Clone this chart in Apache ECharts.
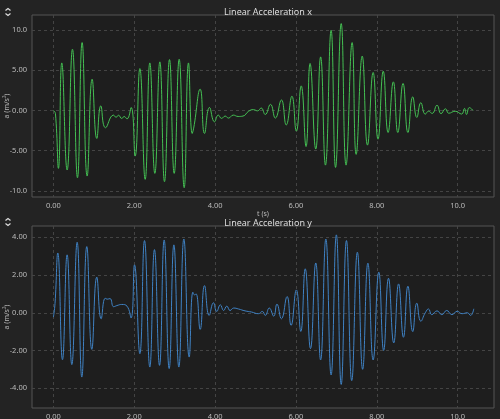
<!DOCTYPE html>
<html>
<head>
<meta charset="utf-8">
<script src="https://cdn.jsdelivr.net/npm/echarts@6/dist/echarts.min.js"></script>
<style>
  html, body { margin: 0; padding: 0; background: #232323; }
  #chart { width: 500px; height: 419px; }
</style>
</head>
<body>
<div id="chart"></div>
<script>
// time (s) and acceleration samples (turning points)
const timeX = [0.00, 0.05, 0.124, 0.207, 0.339, 0.471, 0.595, 0.710, 0.834, 0.958, 1.073, 1.172, 1.288, 1.486, 1.55, 1.61, 1.69, 1.75, 1.82,
  1.923, 2.022, 2.138, 2.27, 2.385, 2.509, 2.633, 2.748, 2.872, 2.988, 3.111, 3.235, 3.342, 3.433, 3.47, 3.631, 3.738, 3.862, 3.986,
  4.08, 4.16, 4.25, 4.33, 4.45, 4.57, 4.69, 4.83, 4.95, 5.05, 5.14, 5.24, 5.37, 5.49, 5.64, 5.76, 5.90, 6.01, 6.13, 6.25, 6.35, 6.49,
  6.61, 6.73, 6.87, 6.98, 7.12, 7.24, 7.39, 7.49, 7.64, 7.77, 7.91, 8.03, 8.16, 8.28, 8.41, 8.52, 8.65, 8.77, 8.89, 8.99, 9.09, 9.20,
  9.28, 9.37, 9.49, 9.59, 9.70, 9.78, 9.94, 10.10, 10.17, 10.22, 10.29, 10.38]
const accX = [0.0, -0.4, -7.2, 5.9, -7.4, 7.6, -8.36, 8.43, -8.15, 3.88, -3.48, 0.57, -2.15, -0.58, -0.85, -0.6, -1.0, -0.75, -1.05,
  0.37, -5.67, 5.2, -8.56, 5.9, -7.82, 6.03, -8.85, 6.32, -7.82, 6.36, -9.6, 5.9, -2.86, -2.2, 2.64, -2.86, 0.37, -1.41,
  -0.58, -0.99, -0.7, -0.95, -0.58, -0.75, -0.7, -0.1, 0.1, -0.05, 0.3, -0.5, 0.75, -0.95, 1.3, -1.8, 1.77, -2.57, 3.05, -4.48, 5.83, -4.8,
  6.65, -6.79, 9.96, -7.08, 10.79, -6.79, 8.43, -5.46, 6.74, -4.31, 4.71, -3.57, 4.87, -2.74, 3.55, -2.74, 3.35, -2.74, 1.69, -0.87, 0.96, -0.46,
  -0.1, -0.37, 0.64, -0.4, 0.2, -0.35, -0.1, -0.45, 0.25, -0.5, 0.35, 0.0]

const timeY = [0.00, 0.04, 0.108, 0.224, 0.339, 0.455, 0.587, 0.702, 0.826, 0.950, 1.073, 1.181, 1.28, 1.33, 1.40, 1.49, 1.57, 1.69, 1.82,
  1.92, 2.006, 2.138, 2.253, 2.385, 2.50, 2.625, 2.74, 2.864, 2.98, 3.103, 3.227, 3.359, 3.45, 3.49, 3.53, 3.631, 3.738, 3.854,
  3.96, 4.04, 4.13, 4.21, 4.29, 4.37, 4.46, 4.58, 4.74, 4.90, 5.07, 5.17, 5.24, 5.34, 5.45, 5.53, 5.64, 5.78, 5.88, 6.01, 6.12,
  6.23, 6.36, 6.49, 6.61, 6.74, 6.87, 7.00, 7.12, 7.25, 7.38, 7.52, 7.65, 7.78, 7.91, 8.05, 8.17, 8.29, 8.42, 8.54, 8.66, 8.77, 8.89,
  8.99, 9.09, 9.20, 9.28, 9.36, 9.49, 9.61, 9.73, 9.86, 9.99, 10.11, 10.24, 10.32, 10.40]
const accY = [-0.23, 0.5, 3.17, -2.49, 3.07, -2.75, 3.74, -3.41, 3.51, -1.94, 1.89, -0.32, 0.77, 0.72, 0.75, 0.32, 0.38, 0.44, 0.35,
  -0.28, 2.54, -2.17, 3.83, -2.88, 3.35, -2.79, 3.86, -2.96, 3.6, -2.88, 3.91, -2.35, 1.09, 0.95, 1.0, -0.88, 1.44, -0.14,
  0.53, 0.07, 0.42, 0.12, 0.35, 0.12, 0.25, 0.2, 0.1, 0.04, -0.05, 0.07, -0.14, 0.25, -0.18, 0.46, -0.32, 0.86, -0.67, 1.21, -0.99,
  2.33, -1.9, 2.64, -2.5, 3.91, -3.3, 4.13, -3.8, 3.83, -3.6, 3.21, -3.0, 2.63, -2.5, 2.15, -2.0, 1.83, -1.6, 1.53, -1.3, 1.41, -1.0,
  0.51, -0.45, 0.0, 0.2, -0.1, 0.1, -0.1, 0.12, -0.1, 0.08, -0.05, 0.0, -0.14, 0.21]

const timeTicks = [0, 2, 4, 6, 8, 10]
const accXTicks = [-10, -5, 0, 5, 10]
const accYTicks = [-4, -2, 0, 2, 4]

const font = 'Noto Sans'
const fmt = v => Number(v).toPrecision(3)

function pairs (ts, vs) {
  return ts.map((t, i) => [t, vs[i]])
}

function xAxisOf (gridIndex) {
  return {
    type: 'value',
    gridIndex: gridIndex,
    min: -0.53,
    max: 10.9,
    name: 't (s)',
    nameLocation: 'middle',
    nameGap: 13,
    nameMoveOverlap: false,
    nameTextStyle: { color: '#bbb', fontSize: 7, fontFamily: font },
    axisLine: { show: false },
    axisTick: { show: false, customValues: timeTicks },
    axisLabel: { color: '#bbb', fontSize: 7.5, fontFamily: font, margin: 5, customValues: timeTicks, formatter: fmt },
    splitLine: { show: true, customValues: timeTicks, lineStyle: { color: '#444', type: [3, 3], width: 1 } }
  }
}

function yAxisOf (gridIndex, min, max, ticks) {
  return {
    type: 'value',
    gridIndex: gridIndex,
    min: min,
    max: max,
    name: 'a (m/s²)',
    nameLocation: 'middle',
    nameGap: 22,
    nameMoveOverlap: false,
    nameTextStyle: { color: '#bbb', fontSize: 7, fontFamily: font },
    axisLine: { show: false },
    axisTick: { show: false, customValues: ticks },
    axisLabel: { color: '#bbb', fontSize: 7.5, fontFamily: font, margin: 5, customValues: ticks, formatter: fmt },
    splitLine: { show: true, customValues: ticks, lineStyle: { color: '#444', type: [3, 3], width: 1 } }
  }
}

function chevrons (y) {
  return [
    { type: 'polyline', shape: { points: [[5.5, y + 2], [8, y], [10.5, y + 2]] }, style: { stroke: '#ddd', lineWidth: 1.2, fill: null } },
    { type: 'polyline', shape: { points: [[5.5, y + 5], [8, y + 7], [10.5, y + 5]] }, style: { stroke: '#ddd', lineWidth: 1.2, fill: null } }
  ]
}

const chart = echarts.init(document.getElementById('chart'))
const option = {
  backgroundColor: '#232323',
  animation: false,
  title: [
    { text: 'Linear Acceleration x', left: 263, top: 3, textAlign: 'center', textStyle: { color: '#ddd', fontSize: 9, fontWeight: 'normal', fontFamily: font } },
    { text: 'Linear Acceleration y', left: 263, top: 214, textAlign: 'center', textStyle: { color: '#ddd', fontSize: 9, fontWeight: 'normal', fontFamily: font } }
  ],
  graphic: chevrons(8.5).concat(chevrons(218.5)),
  grid: [
    { left: 32, right: 6, top: 15, height: 182, show: true, outerBoundsMode: 'none', containLabel: false, backgroundColor: '#1e1e1e', borderColor: '#555', borderWidth: 1 },
    { left: 32, right: 6, top: 226, height: 182, show: true, outerBoundsMode: 'none', containLabel: false, backgroundColor: '#1e1e1e', borderColor: '#555', borderWidth: 1 }
  ],
  xAxis: [xAxisOf(0), xAxisOf(1)],
  yAxis: [yAxisOf(0, -10.75, 11.85, accXTicks), yAxisOf(1, -5.05, 4.6, accYTicks)],
  series: [
    {
      type: 'line',
      xAxisIndex: 0,
      yAxisIndex: 0,
      data: pairs(timeX, accX),
      smooth: 0.5,
      showSymbol: false,
      lineStyle: { color: '#44c053', width: 1 }
    },
    {
      type: 'line',
      xAxisIndex: 1,
      yAxisIndex: 1,
      data: pairs(timeY, accY),
      smooth: 0.5,
      showSymbol: false,
      lineStyle: { color: '#3f82c4', width: 1 }
    }
  ]
}
chart.setOption(option)
</script>
</body>
</html>
